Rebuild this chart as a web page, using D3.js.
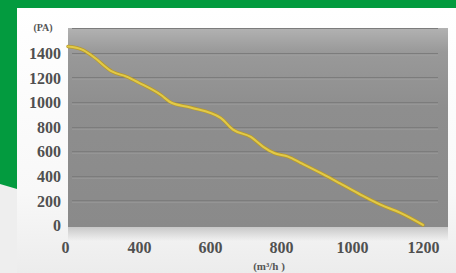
<!DOCTYPE html>
<html>
<head>
<meta charset="utf-8">
<script src="https://cdn.jsdelivr.net/npm/d3@7"></script>
<style>
  body { margin: 0; background: #fff; }
  .tick text { font-family: "Liberation Serif", serif; font-weight: bold; font-size: 16px; fill: #505050; }
  .domain { display: none; }
</style>
</head>
<body>
<div id="chart"></div>
<script>
// airflow (m³/h) vs static pressure (PA)
const flow = [0, 80, 140, 250, 330, 400, 460, 490, 545, 630, 665, 715, 750, 780, 820, 855, 910, 965, 1025, 1080, 1135, 1200];
const pressure = [1450, 1425, 1370, 1245, 1205, 1155, 1060, 995, 955, 870, 775, 715, 635, 585, 555, 505, 425, 340, 245, 165, 100, 0];
const xTicks = [0, 400, 600, 800, 1000, 1200];
const yTicks = [0, 200, 400, 600, 800, 1000, 1200, 1400];

const width = 456, height = 273;
const plot = { left: 68, right: 448, top: 28, bottom: 227 };

const svg = d3.select("#chart").append("svg")
    .attr("width", width)
    .attr("height", height);

const defs = svg.append("defs");

const panelGrad = defs.append("linearGradient").attr("id", "panel")
    .attr("x1", 0).attr("y1", 0).attr("x2", 0).attr("y2", 1);
panelGrad.append("stop").attr("offset", "0%").attr("stop-color", "#ffffff");
panelGrad.append("stop").attr("offset", "70%").attr("stop-color", "#f8f8f8");
panelGrad.append("stop").attr("offset", "100%").attr("stop-color", "#ececec");

const plotGrad = defs.append("linearGradient").attr("id", "plotbg")
    .attr("x1", 0).attr("y1", 0).attr("x2", 0).attr("y2", 1);
plotGrad.append("stop").attr("offset", "0%").attr("stop-color", "#b2b2b2");
plotGrad.append("stop").attr("offset", "12%").attr("stop-color", "#999999");
plotGrad.append("stop").attr("offset", "40%").attr("stop-color", "#8e8e8e");
plotGrad.append("stop").attr("offset", "100%").attr("stop-color", "#8a8a8a");

const shadowGrad = defs.append("linearGradient").attr("id", "shadow")
    .attr("x1", 0).attr("y1", 0).attr("x2", 0).attr("y2", 1);
shadowGrad.append("stop").attr("offset", "0%").attr("stop-color", "#c8c8c8");
shadowGrad.append("stop").attr("offset", "100%").attr("stop-color", "#c8c8c8").attr("stop-opacity", 0);

// page background + green band
svg.append("rect").attr("width", width).attr("height", height).attr("fill", "#eeeeee");
svg.append("rect").attr("x", 17).attr("y", 8).attr("width", width - 17).attr("height", height - 8)
    .attr("fill", "url(#panel)");
svg.append("path")
    .attr("d", `M0,0H${width}V8H17V189L0,184Z`)
    .attr("fill", "#039b3f");

const x = d3.scaleLinear().domain([0, 400, 1200]).range([68, 139, 423]);
const y = d3.scaleLinear().domain([0, 1600]).range([225, 28]);

// plot area
svg.append("rect")
    .attr("x", plot.left).attr("y", plot.bottom)
    .attr("width", plot.right - plot.left).attr("height", 14)
    .attr("fill", "url(#shadow)");
svg.append("rect")
    .attr("x", plot.left).attr("y", plot.top)
    .attr("width", plot.right - plot.left).attr("height", plot.bottom - plot.top)
    .attr("fill", "url(#plotbg)");

svg.append("g").selectAll("line")
    .data(yTicks.slice(1).concat([1600]))
    .enter().append("line")
    .attr("x1", plot.left + 4).attr("x2", plot.right - 10)
    .attr("y1", d => Math.round(y(d)) + 0.5).attr("y2", d => Math.round(y(d)) + 0.5)
    .attr("stroke", "#7c7c7c").attr("stroke-width", 1);
svg.append("g").selectAll("line")
    .data(yTicks.slice(1))
    .enter().append("line")
    .attr("x1", plot.left + 4).attr("x2", plot.right - 10)
    .attr("y1", d => Math.round(y(d)) + 2.5).attr("y2", d => Math.round(y(d)) + 2.5)
    .attr("stroke", "#a0a0a0").attr("stroke-opacity", 0.5).attr("stroke-width", 1);

// axes
svg.append("g")
    .attr("transform", `translate(${plot.left},0)`)
    .call(d3.axisLeft(y).tickValues(yTicks).tickFormat(d3.format("d")).tickSize(0).tickPadding(7))
    .selectAll("text").attr("dy", "0.36em");

svg.append("g")
    .attr("transform", `translate(0,${plot.bottom})`)
    .call(d3.axisBottom(x).tickValues(xTicks).tickFormat(d3.format("d")).tickSize(0).tickPadding(15))
    .selectAll("text").attr("dx", d => d === 0 ? -3 : 0);

svg.append("text")
    .attr("x", 43).attr("y", 31)
    .attr("text-anchor", "middle")
    .style("font-family", "Liberation Serif, serif")
    .style("font-weight", "bold")
    .style("font-size", "10px")
    .style("fill", "#555")
    .text("(PA)");

svg.append("text")
    .attr("x", 269).attr("y", 270)
    .attr("text-anchor", "middle")
    .style("font-family", "Liberation Serif, serif")
    .style("font-weight", "bold")
    .style("font-size", "11px")
    .style("fill", "#555")
    .text("(m³/h )");

// curve
const data = flow.map((f, i) => ({ f, p: pressure[i] }));
const line = d3.line().x(d => x(d.f)).y(d => y(d.p)).curve(d3.curveMonotoneX);

svg.append("path").datum(data)
    .attr("d", line)
    .attr("fill", "none")
    .attr("stroke", "#b89a2a")
    .attr("stroke-width", 3.5)
    .attr("stroke-linecap", "round");
svg.append("path").datum(data)
    .attr("d", line)
    .attr("fill", "none")
    .attr("stroke", "#e2ca48")
    .attr("stroke-width", 2)
    .attr("stroke-linecap", "round");
</script>
</body>
</html>
